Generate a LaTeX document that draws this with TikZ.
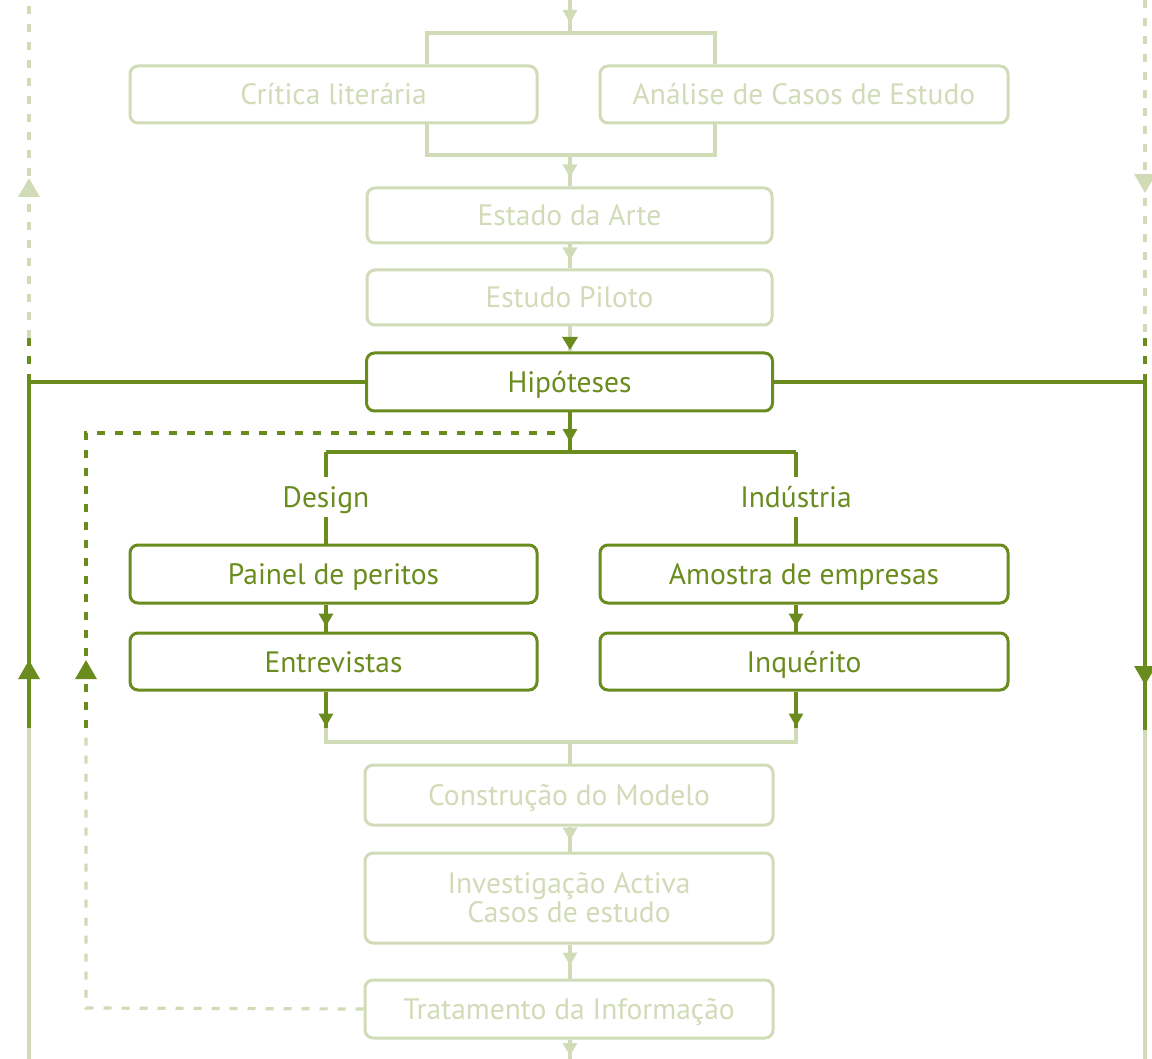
\documentclass[tikz,border=0pt]{standalone}
\usepackage{fontspec}
\setmainfont{PT Sans}
\usetikzlibrary{arrows.meta,decorations.markings}
\definecolor{leaf}{HTML}{6A8C1E}
\definecolor{pale}{HTML}{D1DBB8}
\begin{document}
\begin{tikzpicture}[x=1pt,y=-1pt,
  box/.style={draw, rounded corners=8pt, line width=3pt, minimum height=57pt,
    minimum width=407pt, inner sep=0pt, align=center,
    text height=21pt, text depth=0pt,
    font=\fontsize{29.5}{29}\selectfont},
  darkbox/.style={box, draw=leaf, text=leaf},
  palebox/.style={box, draw=pale, text=pale},
  tag/.style={text=leaf, inner sep=0pt, minimum height=40pt,
    text height=21pt, text depth=0pt,
    font=\fontsize{29.5}{30}\selectfont},
  leafline/.style={draw=leaf, line width=3.2pt},
  paleline/.style={draw=pale, line width=3.2pt},
  dashline/.style={dash pattern=on 8pt off 10pt},
  tipat/.style 2 args={postaction={decorate},
    decoration={markings, mark=at position #1 with {\pgfsetdash{}{0pt}\arrow{#2}}}},
  small/.tip={Triangle[width=14pt,length=13pt]},
  smalldark/.tip={Triangle[width=15pt,length=13pt,color=leaf]},
  big/.tip={Triangle[width=21pt,length=19pt]}
]
\useasboundingbox (0,0) rectangle (1152,1059);

% ---------- boxes ----------
\node[palebox, minimum width=407pt] (crit) at (333.5,94.5) {Crítica literária};
\node[palebox, minimum width=408pt] (anal) at (804,94.5) {Análise de Casos de Estudo};
\node[palebox, minimum width=405pt, minimum height=55pt] (estado) at (569.5,215.5) {Estado da Arte};
\node[palebox, minimum width=405pt, minimum height=55pt] (piloto) at (569.5,297.5) {Estudo Piloto};
\node[darkbox, minimum width=406pt, minimum height=58pt] (hip) at (569.5,382) {Hipóteses};

\node[tag] (design) at (326,497) {Design};
\node[tag] (industria) at (796,497) {Indústria};

\node[darkbox, minimum height=58pt] (painel) at (333.5,574) {Painel de peritos};
\node[darkbox, minimum width=408pt, minimum height=58pt] (amostra) at (804,574) {Amostra de empresas};
\node[darkbox] (entrev) at (333.5,661.5) {Entrevistas};
\node[darkbox, minimum width=408pt] (inq) at (804,661.5) {Inquérito};

\node[palebox, minimum width=408pt, minimum height=60pt] (constr) at (569,795) {Construção do Modelo};
\node[palebox, minimum width=408pt, minimum height=90pt, text height={}, text depth={}]
  (invest) at (569,898) {Investigação Activa\\Casos de estudo};
\node[palebox, minimum width=408pt, minimum height=58pt] (trat) at (569,1009) {Tratamento da Informação};

% ---------- junction points ----------
\coordinate (topin) at (570,0);
\coordinate (brtop) at (570,33);
\coordinate (brbot) at (570,155);
\coordinate (xl) at (427,0);
\coordinate (xr) at (715,0);
\coordinate (split) at (570,452);
\coordinate (splitl) at (326,452);
\coordinate (splitr) at (796,452);
\coordinate (eend) at (326,728);
\coordinate (iend) at (796,728);
\coordinate (merge) at (570,742);
\coordinate (botout) at (570,1059);

\coordinate (lh) at (29,382);
\coordinate (lmid) at (29,728);
\coordinate (lbot) at (29,1059);
\coordinate (ldk) at (29,338);
\coordinate (ltop) at (29,0);

\coordinate (rh) at (1145,382);
\coordinate (rmid) at (1145,730);
\coordinate (rbot) at (1145,1059);
\coordinate (rdk) at (1145,338);
\coordinate (rtop) at (1145,0);

\coordinate (dc) at (86,1008);
\coordinate (dmid) at (86,728);
\coordinate (dtop) at (86,433);
\coordinate (dend) at (557,433);

% ---------- upper chain ----------
\draw[paleline, tipat={-10pt}{small}] (topin) -- (brtop);
\draw[paleline] (crit.north -| xl) |- (brtop) -| (anal.north -| xr);
\draw[paleline] (crit.south -| xl) |- (brbot) -| (anal.south -| xr);
\draw[paleline, tipat={-9pt}{small}] (brbot) -- (estado.north -| brbot);
\draw[paleline, tipat={-8pt}{small}] (estado.south -| brbot) -- (piloto.north -| brbot);
\draw[paleline, tipat={-1.5pt}{smalldark}] (piloto.south -| brbot) -- (hip.north -| brbot);

% ---------- branches ----------
\draw[leafline, tipat={-10pt}{small}] (hip.south -| split) -- (split);
\draw[leafline] (splitl) -- (splitr);
\draw[leafline] (splitl) -- (design.north);
\draw[leafline] (splitr) -- (industria.north);
\draw[leafline] (design.south) -- (painel.north -| design);
\draw[leafline] (industria.south) -- (amostra.north -| industria);
\draw[leafline, tipat={-5pt}{small}] (painel.south -| design) -- (entrev.north -| design);
\draw[leafline, tipat={-5pt}{small}] (amostra.south -| industria) -- (inq.north -| industria);
\draw[leafline, tipat={-1.5pt}{small}] (entrev.south -| eend) -- (eend);
\draw[leafline, tipat={-1.5pt}{small}] (inq.south -| iend) -- (iend);
\draw[paleline] (eend) |- (merge) -| (iend);

% ---------- lower chain ----------
\draw[paleline] (merge) -- (constr.north -| merge);
\draw[paleline, tipat={-11pt}{small}] (constr.south -| merge) -- (invest.north -| merge);
\draw[paleline, tipat={-13pt}{small}] (invest.south -| merge) -- (trat.north -| merge);
\draw[paleline, tipat={-3pt}{small}] (trat.south -| botout) -- (botout);

% ---------- left return line ----------
\draw[leafline] (hip.west) -- (lh);
\draw[leafline, tipat={68pt}{big}] (lmid) -- (lh);
\draw[paleline] (lbot) -- (lmid);
\draw[leafline, dashline] (lh) -- (ldk);
\draw[paleline, dashline, tipat={160pt}{big}] (ldk) -- (ltop);

% ---------- right forward line ----------
\draw[leafline] (hip.east) -- (rh);
\draw[leafline, tipat={303pt}{big}] (rh) -- (rmid);
\draw[paleline] (rmid) -- (rbot);
\draw[paleline, dashline, tipat={193pt}{big}] (rtop) -- (rdk);
\draw[leafline, dashline] (rdk) -- (rh);

% ---------- dashed feedback loop ----------
\draw[paleline, dashline] (trat.west) -- (dc) -- (dmid);
\draw[leafline, dashline, tipat={68pt}{big}] (dmid) -- (dtop) -- (dend);
\end{tikzpicture}
\end{document}
